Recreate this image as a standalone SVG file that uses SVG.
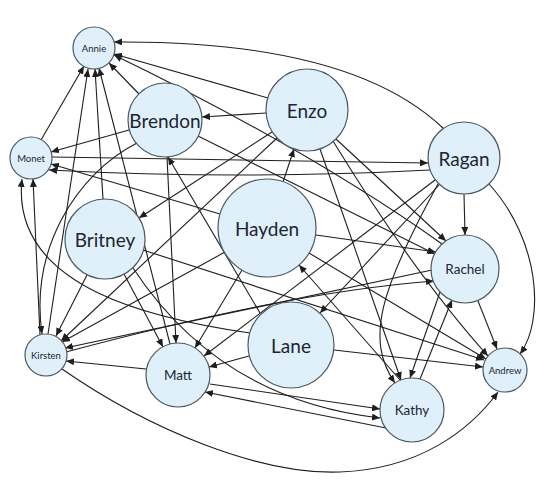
<svg xmlns="http://www.w3.org/2000/svg" width="553" height="485" viewBox="0 0 553 485">
<defs>
<style>
.e{fill:none;stroke:#1e1e1e;stroke-width:1.1;marker-end:url(#arr)}
.n circle{fill:#dff0fb;stroke:#4a5864;stroke-width:1.2}
.n text{font-family:Lato,"Open Sans","Liberation Sans",sans-serif;fill:#1c2530;text-anchor:middle;dominant-baseline:central}
.big{font-size:19px}
.mid{font-size:13.5px}
.sm{font-size:9.5px}
</style>
<marker id="arr" viewBox="0 0 8 7" refX="8" refY="3.5" markerWidth="8" markerHeight="7" markerUnits="userSpaceOnUse" orient="auto">
<path d="M0,0 L8,3.5 L0,7 z" fill="#1e1e1e"/>
</marker>
</defs>
<rect width="553" height="485" fill="#ffffff"/>
<g id="connectors">
<path class="e" d="M443,128 Q350,40 114,42"/>
<path class="e" d="M268,98 L114,54"/>
<path class="e" d="M442,244 Q310,150 114,55"/>
<path class="e" d="M139,94 L109,63"/>
<path class="e" d="M41,140 L84,66"/>
<path class="e" d="M48,334 L88,69"/>
<path class="e" d="M103,199 L95,69"/>
<path class="e" d="M170,344 L99,68"/>
<path class="e" d="M266,113 L202,117"/>
<path class="e" d="M129,130 L51,152"/>
<path class="e" d="M260,313 L168,157"/>
<path class="e" d="M167,157 L176,343"/>
<path class="e" d="M137,143 C75,175 30,250 42,334"/>
<path class="e" d="M198,136 L435,254"/>
<path class="e" d="M272,132 L139,218"/>
<path class="e" d="M277,138 L61,341"/>
<path class="e" d="M52,157 L428,163"/>
<path class="e" d="M430,170 Q240,180 49,170"/>
<path class="e" d="M220,214 L51,164"/>
<path class="e" d="M40,335 L33,179"/>
<path class="e" d="M250,333 C160,320 10,290 22,179"/>
<path class="e" d="M283,182 L294,149"/>
<path class="e" d="M464,194 L465,235"/>
<path class="e" d="M316,235 L436,252"/>
<path class="e" d="M336,139 L446,241"/>
<path class="e" d="M66,352 Q290,292 434,281"/>
<path class="e" d="M432,270 L65,348"/>
<path class="e" d="M420,379 L452,300"/>
<path class="e" d="M440,292 L410,378"/>
<path class="e" d="M320,149 L401,380"/>
<path class="e" d="M438,184 C380,290 365,340 395,383"/>
<path class="e" d="M133,268 Q220,400 380,418"/>
<path class="e" d="M210,384 L380,409"/>
<path class="e" d="M386,428 L205,392"/>
<path class="e" d="M400,380 L299,265"/>
<path class="e" d="M333,141 Q415,275 488,356"/>
<path class="e" d="M309,253 L486,359"/>
<path class="e" d="M143,250 L484,360"/>
<path class="e" d="M478,301 L497,349"/>
<path class="e" d="M489,184 C540,240 545,320 520,354"/>
<path class="e" d="M334,350 L483,367"/>
<path class="e" d="M62,369 C150,430 260,475 340,472 C420,469 470,430 498,392"/>
<path class="e" d="M124,274 L163,347"/>
<path class="e" d="M87,275 L56,336"/>
<path class="e" d="M242,270 L195,348"/>
<path class="e" d="M249,356 L209,367"/>
<path class="e" d="M146,369 L66,361"/>
<path class="e" d="M440,184 L320,313"/>
<path class="e" d="M435,180 L204,356"/>
<path class="e" d="M225,252 L62,342"/>
</g>
<g id="node-annie" class="n"><circle cx="94" cy="48" r="21"/><text class="sm" x="94" y="48">Annie</text></g>
<g id="node-brendon" class="n"><circle cx="165" cy="120" r="37"/><text class="big" x="165" y="120">Brendon</text></g>
<g id="node-monet" class="n"><circle cx="31" cy="158" r="21"/><text class="sm" x="31" y="158">Monet</text></g>
<g id="node-enzo" class="n"><circle cx="307" cy="110" r="41"/><text class="big" x="307" y="110">Enzo</text></g>
<g id="node-ragan" class="n"><circle cx="464" cy="158" r="36"/><text class="big" x="464" y="158">Ragan</text></g>
<g id="node-rachel" class="n"><circle cx="465" cy="269" r="34"/><text class="mid" x="465" y="269">Rachel</text></g>
<g id="node-hayden" class="n"><circle cx="267" cy="228" r="49"/><text class="big" x="267" y="228">Hayden</text></g>
<g id="node-britney" class="n"><circle cx="105" cy="239" r="40"/><text class="big" x="105" y="239">Britney</text></g>
<g id="node-kirsten" class="n"><circle cx="46" cy="355" r="21"/><text class="sm" x="46" y="355">Kirsten</text></g>
<g id="node-matt" class="n"><circle cx="178" cy="375" r="32"/><text class="mid" x="178" y="375">Matt</text></g>
<g id="node-lane" class="n"><circle cx="291" cy="345" r="43"/><text class="big" x="291" y="345">Lane</text></g>
<g id="node-kathy" class="n"><circle cx="412" cy="410" r="32"/><text class="mid" x="412" y="410">Kathy</text></g>
<g id="node-andrew" class="n"><circle cx="505" cy="370" r="22"/><text class="sm" x="505" y="370">Andrew</text></g>
</svg>
